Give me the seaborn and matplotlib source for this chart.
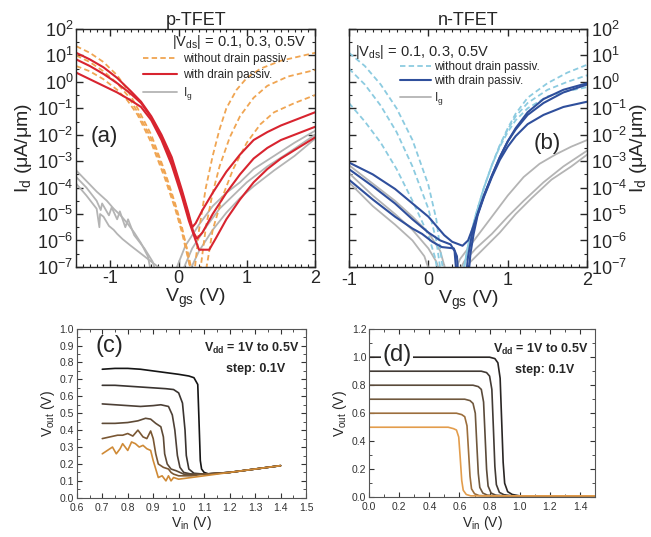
import numpy as np
import seaborn as sns
import matplotlib.pyplot as plt
from matplotlib.lines import Line2D
from matplotlib.ticker import MultipleLocator, LogLocator, FixedLocator, NullFormatter

sns.set_style("ticks")
plt.rcParams['font.family'] = ['Liberation Sans', 'DejaVu Sans']
plt.rcParams['mathtext.fontset'] = 'custom'
plt.rcParams['mathtext.rm'] = 'Liberation Sans'
plt.rcParams['mathtext.it'] = 'Liberation Sans'
plt.rcParams['mathtext.bf'] = 'Liberation Sans:bold'
plt.rcParams['mathtext.default'] = 'regular'
plt.rcParams['axes.unicode_minus'] = False

# ---------------- (a) p-TFET, values are log10(Id in uA/um) ----------------
a_red_x = [
    [-1.5, -1.3, -1.1, -0.9, -0.7, -0.55, -0.4, -0.25, -0.1, 0.05, 0.15, 0.2, 0.25, 0.35, 0.5, 0.7, 0.9, 1.1, 1.3, 1.5, 1.75, 2.0],
    [-1.5, -1.3, -1.1, -0.9, -0.7, -0.55, -0.4, -0.25, -0.1, 0.05, 0.15, 0.22, 0.27, 0.35, 0.5, 0.7, 0.9, 1.1, 1.3, 1.5, 1.75, 2.0],
    [-1.5, -1.3, -1.1, -0.9, -0.7, -0.55, -0.4, -0.25, -0.1, 0.05, 0.15, 0.25, 0.3, 0.45, 0.55, 0.7, 0.9, 1.1, 1.3, 1.5, 1.75, 2.0],
]
a_red_y = [
    [1.1, 0.85, 0.55, 0.15, -0.35, -0.75, -1.3, -2.0, -2.85, -4.1, -5.0, -5.5, -5.35, -4.85, -4.2, -3.4, -2.75, -2.2, -1.9, -1.65, -1.4, -1.15],
    [0.85, 0.6, 0.3, -0.05, -0.45, -0.8, -1.35, -2.1, -3.0, -4.2, -5.1, -5.7, -5.93, -5.7, -5.0, -4.2, -3.5, -2.9, -2.5, -2.2, -1.95, -1.7],
    [0.35, 0.1, -0.15, -0.4, -0.7, -0.95, -1.45, -2.2, -3.15, -4.35, -5.25, -6.0, -6.35, -6.35, -5.9, -5.2, -4.45, -3.8, -3.3, -2.9, -2.5, -2.1],
]
a_dash_x = [
    [-1.5, -1.3, -1.1, -0.9, -0.75, -0.6, -0.4, -0.2, -0.05, 0.05, 0.12, 0.2, 0.22, 0.3, 0.4, 0.5, 0.6, 0.7, 0.85, 1.0, 1.2, 1.5, 1.75, 2.0],
    [-1.5, -1.3, -1.1, -0.9, -0.75, -0.6, -0.4, -0.2, -0.05, 0.05, 0.15, 0.22, 0.3, 0.4, 0.5, 0.6, 0.75, 0.9, 1.1, 1.3, 1.6, 2.0],
    [-1.5, -1.3, -1.1, -0.9, -0.75, -0.6, -0.4, -0.2, -0.05, 0.05, 0.15, 0.22, 0.38, 0.5, 0.65, 0.8, 1.0, 1.2, 1.4, 1.7, 2.0],
]
a_dash_y = [
    [1.35, 1.1, 0.75, 0.25, -0.3, -1.0, -2.0, -3.4, -4.6, -5.5, -6.3, -7.5, -7.5, -5.6, -4.0, -2.8, -1.8, -1.0, -0.3, 0.15, 0.5, 0.8, 0.95, 1.1],
    [1.0, 0.75, 0.4, -0.05, -0.5, -1.15, -2.15, -3.5, -4.7, -5.6, -6.6, -7.5, -7.5, -5.5, -4.2, -3.2, -2.1, -1.3, -0.6, -0.15, 0.2, 0.45],
    [0.6, 0.4, 0.1, -0.3, -0.7, -1.25, -2.3, -3.65, -4.8, -5.7, -6.8, -7.5, -7.5, -5.6, -4.3, -3.3, -2.3, -1.6, -1.15, -0.8, -0.5],
]
a_ig_x = [
    [-1.5, -1.35, -1.2, -1.05, -0.95, -0.85, -0.75, -0.65, -0.55, -0.45, -0.38],
    [-1.5, -1.35, -1.2, -1.14, -1.12, -1.02, -0.98, -0.9, -0.86, -0.78, -0.74, -0.65, -0.5, -0.38, -0.3],
    [-1.5, -1.35, -1.2, -1.16, -1.15, -1.1, -1.02, -0.95, -0.9, -0.82, -0.7, -0.55, -0.4, -0.25, -0.18],
    [-0.1, 0.1, 0.3, 0.5, 0.7, 0.9, 1.1, 1.4, 1.7, 2.0],
    [0.0, 0.2, 0.4, 0.6, 0.8, 1.0, 1.3, 1.6, 2.0],
    [0.1, 0.3, 0.5, 0.7, 0.9, 1.1, 1.4, 1.7, 2.0],
]
a_ig_y = [
    [-3.35, -3.75, -4.15, -4.5, -4.8, -5.05, -5.35, -5.7, -6.1, -6.6, -7.5],
    [-3.6, -4.0, -4.5, -4.85, -4.6, -5.05, -4.75, -5.2, -4.9, -5.5, -5.2, -5.8, -6.3, -6.8, -7.5],
    [-3.85, -4.3, -4.8, -5.5, -5.0, -5.1, -5.45, -5.6, -5.75, -5.95, -6.2, -6.5, -6.8, -7.1, -7.5],
    [-7.5, -6.2, -5.4, -4.7, -4.2, -3.8, -3.3, -2.8, -2.3, -1.85],
    [-7.5, -6.3, -5.5, -4.8, -4.3, -3.8, -3.2, -2.7, -2.0],
    [-7.5, -6.4, -5.6, -4.95, -4.4, -3.95, -3.35, -2.8, -2.15],
]

# ---------------- (b) n-TFET ----------------
b_blue_x = [
    [-1, -0.7, -0.42, -0.2, 0, 0.2, 0.3, 0.43, 0.5, 0.55, 0.62, 0.7, 0.8, 0.9, 1.0, 1.1, 1.25, 1.45, 1.7, 2.0],
    [-1, -0.7, -0.42, -0.2, 0, 0.15, 0.28, 0.33, 0.36, 0.47, 0.5, 0.55, 0.62, 0.7, 0.8, 0.9, 1.0, 1.1, 1.25, 1.45, 1.7, 2.0],
    [-1, -0.7, -0.42, -0.2, -0.08, 0.05, 0.17, 0.32, 0.36, 0.38, 0.5, 0.53, 0.57, 0.62, 0.7, 0.8, 0.9, 1.0, 1.1, 1.25, 1.45, 1.7, 2.0],
]
b_blue_y = [
    [-3.05, -3.5, -4.05, -4.6, -5.1, -5.8, -6.05, -6.2, -6.0, -5.6, -5.0, -4.3, -3.55, -2.85, -2.25, -1.75, -1.15, -0.65, -0.3, -0.05],
    [-3.3, -3.95, -4.6, -5.2, -5.7, -6.0, -6.15, -6.4, -7.5, -7.5, -6.6, -5.75, -5.0, -4.3, -3.55, -2.85, -2.25, -1.8, -1.25, -0.8, -0.4, -0.1],
    [-3.7, -4.45, -5.1, -5.55, -5.75, -6.05, -6.25, -6.3, -6.6, -7.5, -7.5, -6.5, -5.75, -5.05, -4.35, -3.6, -2.95, -2.45, -2.05, -1.6, -1.25, -0.95, -0.75],
]
b_dash_x = [
    [-1, -0.8, -0.6, -0.4, -0.2, 0.0, 0.1, 0.2, 0.42, 0.5, 0.6, 0.7, 0.8, 0.9, 1.0, 1.1, 1.25, 1.5, 1.75, 2.0],
    [-1, -0.8, -0.6, -0.4, -0.2, 0.0, 0.1, 0.17, 0.42, 0.5, 0.6, 0.7, 0.8, 0.9, 1.0, 1.1, 1.25, 1.5, 1.75, 2.0],
    [-1, -0.8, -0.6, -0.4, -0.2, 0.0, 0.08, 0.14, 0.42, 0.5, 0.6, 0.7, 0.8, 0.9, 1.0, 1.1, 1.25, 1.5, 1.75, 2.0],
]
b_dash_y = [
    [1.1, 0.6, -0.1, -1.0, -2.2, -3.9, -5.2, -7.5, -7.5, -6.2, -5.0, -4.0, -3.15, -2.4, -1.75, -1.2, -0.6, -0.05, 0.35, 0.65],
    [0.5, -0.1, -0.9, -1.9, -3.2, -4.8, -6.0, -7.5, -7.5, -6.2, -5.0, -4.0, -3.15, -2.4, -1.8, -1.3, -0.8, -0.3, 0.0, 0.25],
    [-0.8, -1.5, -2.3, -3.3, -4.5, -5.8, -6.6, -7.5, -7.5, -6.2, -5.0, -4.0, -3.15, -2.45, -1.9, -1.45, -1.0, -0.55, -0.35, -0.2],
]
b_ig_x = [
    [-1, -0.7, -0.42, -0.2, 0, 0.15, 0.25],
    [-1, -0.7, -0.42, -0.2, 0, 0.1, 0.18],
    [-1, -0.7, -0.42, -0.2, -0.05, 0.05],
    [0.28, 0.4, 0.55, 0.7, 0.85, 1.0, 1.2, 1.4, 1.6, 1.8, 2.0],
    [0.33, 0.45, 0.6, 0.8, 1.0, 1.2, 1.45, 1.7, 2.0],
    [0.38, 0.5, 0.7, 0.9, 1.1, 1.3, 1.55, 1.8, 2.0],
]
b_ig_y = [
    [-3.15, -3.85, -4.5, -5.1, -5.7, -6.4, -7.5],
    [-3.45, -4.3, -5.0, -5.6, -6.3, -6.8, -7.5],
    [-3.8, -4.7, -5.4, -6.0, -6.6, -7.5],
    [-7.5, -6.7, -6.1, -5.5, -4.9, -4.3, -3.6, -3.1, -2.75, -2.45, -2.2],
    [-7.5, -6.8, -6.3, -5.75, -5.1, -4.5, -3.8, -3.2, -2.6],
    [-7.5, -6.9, -6.3, -5.7, -5.0, -4.4, -3.7, -3.2, -2.75],
]

# ---------------- (c) measured inverter, Vdd = 1.0 ... 0.5 V ----------------
c_x = [
    [0.70, 0.75, 0.80, 0.85, 0.90, 0.95, 1.00, 1.04, 1.06, 1.075, 1.08, 1.085, 1.09, 1.10, 1.12, 1.20, 1.30, 1.40],
    [0.70, 0.75, 0.80, 0.85, 0.90, 0.95, 0.98, 1.00, 1.015, 1.025, 1.03, 1.04, 1.06, 1.10, 1.20, 1.30, 1.40],
    [0.70, 0.75, 0.80, 0.85, 0.90, 0.93, 0.96, 0.975, 0.985, 0.995, 1.005, 1.02, 1.05, 1.10, 1.20, 1.30, 1.40],
    [0.70, 0.75, 0.80, 0.84, 0.87, 0.89, 0.91, 0.93, 0.94, 0.945, 0.955, 0.97, 0.99, 1.02, 1.10, 1.20, 1.30, 1.40],
    [0.70, 0.73, 0.76, 0.78, 0.80, 0.82, 0.84, 0.86, 0.875, 0.89, 0.90, 0.91, 0.92, 0.94, 0.96, 0.97, 0.98, 1.0, 1.05, 1.10, 1.20, 1.30, 1.40],
    [0.70, 0.72, 0.74, 0.755, 0.77, 0.78, 0.80, 0.815, 0.83, 0.845, 0.86, 0.875, 0.89, 0.90, 0.91, 0.92, 0.935, 0.95, 0.96, 0.97, 0.98, 1.0, 1.05, 1.1, 1.2, 1.3, 1.4],
]
c_y = [
    [0.76, 0.765, 0.765, 0.76, 0.75, 0.74, 0.73, 0.72, 0.71, 0.67, 0.45, 0.22, 0.17, 0.15, 0.14, 0.15, 0.17, 0.19],
    [0.665, 0.665, 0.66, 0.655, 0.65, 0.645, 0.64, 0.62, 0.56, 0.40, 0.25, 0.17, 0.145, 0.14, 0.15, 0.17, 0.19],
    [0.555, 0.55, 0.545, 0.54, 0.545, 0.55, 0.54, 0.49, 0.40, 0.25, 0.18, 0.15, 0.14, 0.14, 0.15, 0.17, 0.19],
    [0.44, 0.44, 0.445, 0.455, 0.47, 0.465, 0.44, 0.42, 0.36, 0.26, 0.20, 0.17, 0.16, 0.14, 0.14, 0.15, 0.17, 0.19],
    [0.35, 0.36, 0.37, 0.37, 0.38, 0.365, 0.40, 0.36, 0.35, 0.395, 0.35, 0.26, 0.20, 0.18, 0.17, 0.15, 0.14, 0.13, 0.13, 0.14, 0.15, 0.17, 0.19],
    [0.26, 0.28, 0.30, 0.26, 0.29, 0.32, 0.28, 0.33, 0.32, 0.30, 0.31, 0.29, 0.28, 0.22, 0.17, 0.12, 0.13, 0.10, 0.13, 0.10, 0.12, 0.11, 0.12, 0.13, 0.15, 0.17, 0.19],
]
c_colors = ['#151515', '#3a3430', '#4d4036', '#5e4a36', '#7a5733', '#cf8a36']

# ---------------- (d) simulated inverter ----------------
d_x = [
    [0, 0.80, 0.835, 0.855, 0.87, 0.88, 0.89, 0.90, 0.92, 0.95, 1.0, 1.5],
    [0, 0.745, 0.78, 0.80, 0.815, 0.825, 0.835, 0.845, 0.865, 0.895, 0.95, 1.5],
    [0, 0.69, 0.725, 0.745, 0.76, 0.77, 0.78, 0.79, 0.81, 0.84, 0.90, 1.5],
    [0, 0.635, 0.67, 0.69, 0.705, 0.715, 0.725, 0.735, 0.755, 0.785, 0.85, 1.5],
    [0, 0.58, 0.615, 0.635, 0.65, 0.66, 0.67, 0.68, 0.70, 0.73, 0.80, 1.5],
    [0, 0.525, 0.56, 0.58, 0.595, 0.605, 0.615, 0.625, 0.645, 0.675, 0.75, 1.5],
]
d_y = [
    [1.0, 1.0, 0.99, 0.96, 0.85, 0.55, 0.25, 0.10, 0.04, 0.02, 0.01, 0.01],
    [0.9, 0.9, 0.89, 0.865, 0.77, 0.50, 0.22, 0.09, 0.035, 0.018, 0.01, 0.01],
    [0.8, 0.8, 0.79, 0.77, 0.68, 0.44, 0.20, 0.08, 0.03, 0.015, 0.01, 0.01],
    [0.7, 0.7, 0.69, 0.67, 0.60, 0.38, 0.17, 0.07, 0.03, 0.015, 0.01, 0.01],
    [0.6, 0.6, 0.59, 0.575, 0.51, 0.33, 0.15, 0.06, 0.025, 0.012, 0.01, 0.01],
    [0.5, 0.5, 0.49, 0.48, 0.43, 0.28, 0.12, 0.05, 0.02, 0.01, 0.01, 0.01],
]
d_colors = ['#2a2624', '#423b35', '#5a4a3a', '#70583d', '#9c6e3c', '#e39d4c']

RED, ORANGE, GRAY = '#d8242f', '#f0a552', '#b4b4b4'
BLUE, LBLUE = '#2f4f9c', '#8ccbe0'

fig = plt.figure(figsize=(6.51, 5.37), dpi=100)
ax_a = fig.add_axes([0.117, 0.503, 0.367, 0.443])
ax_b = fig.add_axes([0.536, 0.503, 0.366, 0.443])
ax_c = fig.add_axes([0.118, 0.073, 0.352, 0.315])
ax_d = fig.add_axes([0.567, 0.074, 0.347, 0.313])


def draw(ax, xs, ys, color, lw, ls='-', log=True):
    for x, y in zip(xs, ys):
        yy = np.power(10.0, y) if log else np.array(y)
        sns.lineplot(x=np.array(x), y=yy, ax=ax, color=color, linewidth=lw,
                     linestyle=ls, sort=False, estimator=None, legend=False)


dash = (0, (3, 1.8))

# panel a
draw(ax_a, a_ig_x, a_ig_y, GRAY, 1.3)
draw(ax_a, a_dash_x, a_dash_y, ORANGE, 1.3, dash)
draw(ax_a, a_red_x, a_red_y, RED, 1.5)
# panel b
draw(ax_b, b_ig_x, b_ig_y, GRAY, 1.3)
draw(ax_b, b_dash_x, b_dash_y, LBLUE, 1.3, dash)
draw(ax_b, b_blue_x, b_blue_y, BLUE, 1.5)

for ax, xlim in [(ax_a, (-1.5, 2)), (ax_b, (-1, 2))]:
    ax.set_yscale('log')
    ax.set_ylim(1e-7, 1e2)
    ax.set_xlim(*xlim)
    ax.yaxis.set_major_locator(LogLocator(base=10, numticks=12))
    ax.yaxis.set_minor_locator(FixedLocator([10 ** (k + 0.5) for k in range(-7, 2)]))
    ax.yaxis.set_minor_formatter(NullFormatter())
    ax.xaxis.set_major_locator(MultipleLocator(1))
    ax.xaxis.set_minor_locator(MultipleLocator(0.1))
    ax.tick_params(which='both', direction='in', top=True, right=True,
                   labelsize=13, pad=2)
    ax.tick_params(which='major', length=5, width=1)
    ax.tick_params(which='minor', length=2.5, width=0.8)
    ax.set_xlabel('V$_{gs}$ (V)', fontsize=14, labelpad=0)
    ax.set_ylabel('I$_d$ (μA/μm)', fontsize=14, labelpad=2)
    for s in ax.spines.values():
        s.set_linewidth(1.0)

ax_a.set_title('p-TFET', fontsize=13, pad=3)
ax_b.set_title('n-TFET', fontsize=13, pad=3)
ax_b.yaxis.tick_right()
ax_b.tick_params(which='both', left=True, right=True, labelleft=False, labelright=True)
ax_b.tick_params(axis='y', pad=3)
ax_b.tick_params(axis='x', pad=3.5)
ax_b.yaxis.set_label_position('right')
ax_b.set_ylabel('I$_d$ (μA/μm)', fontsize=14, labelpad=0)

ax_a.text(0.965, 0.945, '|V$_{ds}$| = 0.1, 0.3, 0.5V', transform=ax_a.transAxes,
          ha='right', va='center', fontsize=10.5)
ax_b.text(0.025, 0.903, '|V$_{ds}$| = 0.1, 0.3, 0.5V', transform=ax_b.transAxes,
          ha='left', va='center', fontsize=10.5)
ax_a.text(0.06, 0.55, '(a)', transform=ax_a.transAxes, fontsize=16, va='center')
ax_b.text(0.775, 0.52, '(b)', transform=ax_b.transAxes, fontsize=16, va='center')

labels = ['without drain passiv.', 'with drain passiv.', 'I$_g$']
h_a = [Line2D([], [], color=ORANGE, lw=1.3, ls=dash), Line2D([], [], color=RED, lw=1.5),
       Line2D([], [], color=GRAY, lw=1.3)]
h_b = [Line2D([], [], color=LBLUE, lw=1.3, ls=dash), Line2D([], [], color=BLUE, lw=1.5),
       Line2D([], [], color=GRAY, lw=1.3)]
ax_a.legend(h_a, labels, loc='upper left', bbox_to_anchor=(0.28, 0.9), frameon=False,
            fontsize=8.5, handlelength=2.9, handletextpad=0.5, labelspacing=0.35,
            borderaxespad=0, borderpad=0)
ax_b.legend(h_b, labels, loc='upper left', bbox_to_anchor=(0.214, 0.865), frameon=False,
            fontsize=8.5, handlelength=2.6, handletextpad=0.3, labelspacing=0.2,
            borderaxespad=0, borderpad=0)

# panel c
for x, y, c in zip(c_x, c_y, c_colors):
    draw(ax_c, [x], [y], c, 1.2, log=False)
ax_c.set_xlim(0.6, 1.5)
ax_c.set_ylim(0, 1.0)
ax_c.xaxis.set_major_locator(MultipleLocator(0.1))
ax_c.xaxis.set_minor_locator(MultipleLocator(0.05))
ax_c.yaxis.set_major_locator(MultipleLocator(0.1))
ax_c.yaxis.set_minor_locator(MultipleLocator(0.05))
ax_c.xaxis.set_major_formatter('{x:.1f}')
ax_c.yaxis.set_major_formatter('{x:.1f}')
ax_c.text(0.08, 0.9, '(c)', transform=ax_c.transAxes, fontsize=17, va='center')

# panel d
for x, y, c in zip(d_x, d_y, d_colors):
    draw(ax_d, [x], [y], c, 1.2, log=False)
ax_d.set_xlim(0, 1.5)
ax_d.set_ylim(0, 1.2)
ax_d.xaxis.set_major_locator(MultipleLocator(0.2))
ax_d.xaxis.set_minor_locator(MultipleLocator(0.1))
ax_d.yaxis.set_major_locator(MultipleLocator(0.2))
ax_d.yaxis.set_minor_locator(MultipleLocator(0.1))
ax_d.xaxis.set_major_formatter('{x:.1f}')
ax_d.yaxis.set_major_formatter('{x:.1f}')
ax_d.text(0.06, 0.845, '(d)', transform=ax_d.transAxes, fontsize=17, va='center',
          bbox=dict(facecolor='white', edgecolor='none', pad=1))

for ax in (ax_c, ax_d):
    ax.tick_params(which='both', direction='in', top=True, right=True,
                   labelsize=7.5, colors='#333333')
    ax.tick_params(axis='x', pad=3.5)
    ax.tick_params(axis='y', pad=2)
    ax.tick_params(which='major', length=3.5, width=0.8)
    ax.tick_params(which='minor', length=2, width=0.6)
    ax.set_xlabel('V$_{in}$ (V)', fontsize=10, labelpad=1)
    ax.set_ylabel('V$_{out}$ (V)', fontsize=10, labelpad=2)
    for s in ax.spines.values():
        s.set_linewidth(0.8)
        s.set_color('#555555')
    ax.text(0.97, 0.88, r'$\mathbf{V_{dd}}$ = 1V to 0.5V', transform=ax.transAxes,
            ha='right', va='center', fontsize=9, fontweight='bold')
    ax.text(0.91, 0.76, 'step: 0.1V', transform=ax.transAxes,
            ha='right', va='center', fontsize=9, fontweight='bold')

fig.savefig('out.png', dpi=100)
